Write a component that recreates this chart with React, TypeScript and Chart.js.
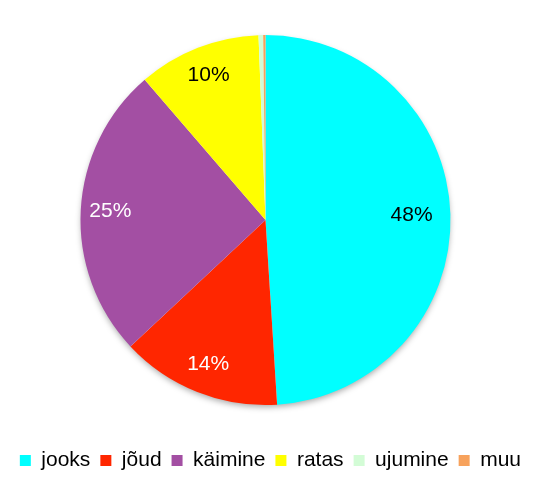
import React, { useEffect, useRef } from "react";
import { Chart, registerables } from "chart.js";

Chart.register(...registerables);

const categories = ["jooks", "jõud", "käimine", "ratas", "ujumine", "muu"];
const shares = [48.9, 14.0, 25.6, 10.7, 0.4, 0.2];

const sliceColors = ["#00FFFF", "#FF2600", "#A34FA3", "#FFFF00", "#D3FCD6", "#F7A25C"];
const labelInk = ["#000000", "#FFFFFF", "#FFFFFF", "#000000", "#000000", "#000000"];

const shadowPlugin = {
  id: "pieShadow",
  beforeDatasetsDraw(chart: any) {
    const meta = chart.getDatasetMeta(0);
    const arc = meta.data[0];
    if (!arc) return;
    const { x, y, outerRadius } = arc.getProps(["x", "y", "outerRadius"], true);
    const ctx = chart.ctx;
    ctx.save();
    ctx.shadowColor = "rgba(0,0,0,0.35)";
    ctx.shadowBlur = 6;
    ctx.shadowOffsetY = 3;
    ctx.fillStyle = "#ffffff";
    ctx.beginPath();
    ctx.arc(x, y, outerRadius - 1, 0, Math.PI * 2);
    ctx.fill();
    ctx.restore();
  },
};

const pctLabelPlugin = {
  id: "pctLabels",
  afterDatasetsDraw(chart: any) {
    const meta = chart.getDatasetMeta(0);
    const data = chart.data.datasets[0].data as number[];
    const total = data.reduce((a, b) => a + b, 0);
    const ctx = chart.ctx;
    ctx.save();
    ctx.font = "21px 'Liberation Sans', Arial, sans-serif";
    ctx.textAlign = "center";
    ctx.textBaseline = "middle";
    meta.data.forEach((arc: any, i: number) => {
      const pct = (data[i] / total) * 100;
      if (pct < 5) return;
      const { x, y, startAngle, endAngle, outerRadius } = arc.getProps(
        ["x", "y", "startAngle", "endAngle", "outerRadius"],
        true
      );
      const mid = (startAngle + endAngle) / 2;
      const r = outerRadius * (i === 0 ? 0.79 : 0.84);
      ctx.fillStyle = labelInk[i];
      ctx.fillText(Math.floor(pct) + "%", x + Math.cos(mid) * r, y + Math.sin(mid) * r);
    });
    ctx.restore();
  },
};

export default function App() {
  const ref = useRef<HTMLCanvasElement>(null);

  useEffect(() => {
    document.body.style.margin = "0";
    Chart.defaults.font.family = "'Liberation Sans', Arial, sans-serif";
    const chart = new Chart(ref.current!, {
      type: "pie",
      data: {
        labels: categories,
        datasets: [
          {
            data: shares,
            backgroundColor: sliceColors,
            borderWidth: 0,
          },
        ],
      },
      options: {
        animation: false,
        responsive: false,
        devicePixelRatio: 1,
        radius: 185,
        layout: { padding: { left: 0, right: 6, top: 0, bottom: 11 } },
        plugins: {
          tooltip: { enabled: false },
          legend: {
            position: "bottom",
            align: "end",
            labels: {
              boxWidth: 11,
              boxHeight: 11,
              padding: 10,
              color: "#000000",
              font: { size: 21, family: "'Liberation Sans', Arial, sans-serif" },
            },
          },
        },
      } as any,
      plugins: [shadowPlugin, pctLabelPlugin],
    });
    return () => chart.destroy();
  }, []);

  return (
    <div style={{ position: "absolute", left: 0, top: 0, width: 537, height: 492, background: "#fff" }}>
      <canvas ref={ref} width={537} height={492} />
    </div>
  );
}
